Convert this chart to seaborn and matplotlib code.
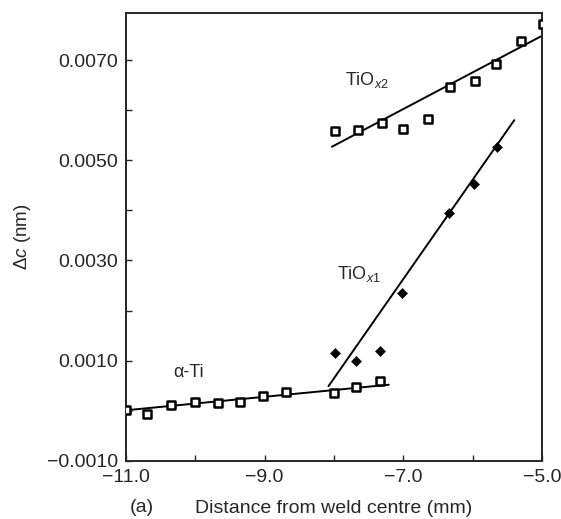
import numpy as np
import pandas as pd
import matplotlib
matplotlib.use("Agg")
import matplotlib.pyplot as plt
import seaborn as sns
from matplotlib.ticker import MultipleLocator, FuncFormatter

# alpha-Ti lattice change (open squares)
ti_x = [-11.0, -10.69, -10.35, -10.01, -9.68, -9.35, -9.02, -8.69, -8.0, -7.68, -7.34]
ti_y = [0.00001, -0.00007, 0.00011, 0.00017, 0.00015, 0.00017, 0.00029, 0.00037, 0.00036, 0.00047, 0.0006]

# TiOx1 (filled diamonds)
x1_x = [-7.99, -7.68, -7.33, -7.02, -6.34, -5.98, -5.65]
x1_y = [0.00116, 0.00099, 0.0012, 0.00236, 0.00394, 0.00453, 0.00527]

# TiOx2 (open squares)
x2_x = [-7.98, -7.66, -7.31, -7.0, -6.65, -6.32, -5.97, -5.66, -5.30, -4.98]
x2_y = [0.00558, 0.00561, 0.00575, 0.00563, 0.00583, 0.00647, 0.00658, 0.00693, 0.00739, 0.00771]

# fitted lines (end points)
ti_fit_x = [-11.0, -7.21]
ti_fit_y = [0.00001, 0.00052]
x1_fit_x = [-8.08, -5.40]
x1_fit_y = [0.00049, 0.0058]
x2_fit_x = [-8.03, -5.02]
x2_fit_y = [0.00527, 0.00747]

sns.set_style("ticks")
plt.rcParams['font.family'] = ['Liberation Sans', 'DejaVu Sans']
plt.rcParams['mathtext.fontset'] = 'custom'
plt.rcParams['mathtext.rm'] = 'Liberation Sans'
plt.rcParams['mathtext.it'] = 'Liberation Sans:italic'

fig = plt.figure(figsize=(5.61, 5.19), dpi=100)
ax = fig.add_axes([0.2246, 0.112, 0.7415, 0.863])

sq = dict(marker='s', s=28, facecolor='white', edgecolor='black', linewidth=1.8, zorder=3)
sns.scatterplot(x=ti_x, y=ti_y, ax=ax, **sq)
sns.scatterplot(x=x2_x, y=x2_y, ax=ax, **sq)
sns.scatterplot(x=x1_x, y=x1_y, ax=ax, marker='D', s=26, color='black',
                edgecolor='black', zorder=3)

for fx, fy in [(ti_fit_x, ti_fit_y), (x1_fit_x, x1_fit_y), (x2_fit_x, x2_fit_y)]:
    sns.lineplot(x=fx, y=fy, ax=ax, color='black', linewidth=1.4)

ax.text(-7.84, 0.0065, r'TiO$_{\mathit{x}\mathrm{2}}$', fontsize=13, va='baseline')
ax.text(-7.95, 0.00264, r'TiO$_{\mathit{x}\mathrm{1}}$', fontsize=13, va='baseline')
ax.text(-10.32, 0.00068, 'α-Ti', fontsize=13, va='baseline')

ax.set_xlim(-11.0, -5.0)
ax.set_ylim(-0.001, 0.00794)
ax.xaxis.set_major_locator(MultipleLocator(2.0, offset=1.0))
ax.xaxis.set_minor_locator(MultipleLocator(1.0))
ax.set_yticks([-0.001, 0.001, 0.003, 0.005, 0.007])
ax.yaxis.set_minor_locator(MultipleLocator(0.002))
ax.xaxis.set_major_formatter(FuncFormatter(lambda v, p: f"{v:.1f}".replace('-', '\u2212')))
ax.yaxis.set_major_formatter(FuncFormatter(lambda v, p: f"{v:.4f}".replace('-', '\u2212')))
ax.tick_params(which='both', direction='in', length=4, width=1, labelsize=14,
               top=False, right=False, pad=6)
for s in ax.spines.values():
    s.set_linewidth(1.4)
    s.set_visible(True)

ax.set_xlabel('Distance from weld centre (mm)', fontsize=14, labelpad=10)
ax.set_ylabel(r'$\Delta\mathit{c}$ (nm)', fontsize=13.5, labelpad=10)
fig.text(0.232, 0.014, '(a)', fontsize=14)

fig.savefig('out.png', dpi=100)
